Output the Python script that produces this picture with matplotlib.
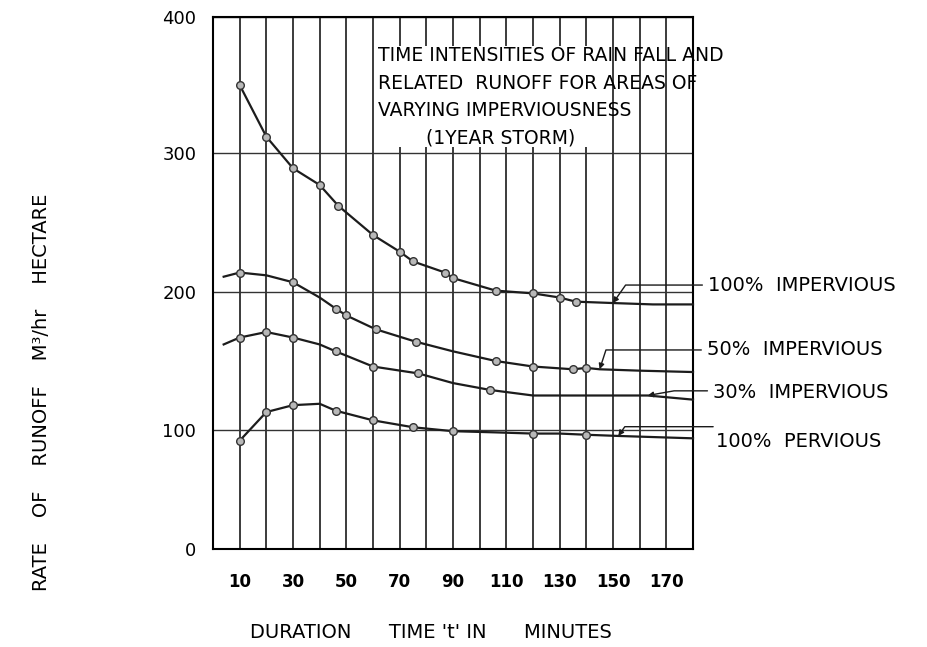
import numpy as np
import matplotlib
matplotlib.use("Agg")
import matplotlib.pyplot as plt
from matplotlib.patches import Rectangle

# (duration in minutes, runoff in m3/hr/hectare)
t_imp100 = [10, 20, 30, 40, 47, 60, 70, 75, 87, 90, 106, 120, 130, 136, 150, 165, 180]
q_imp100 = [350, 312, 289, 277, 262, 241, 229, 222, 214, 210, 201, 199, 196, 193, 192, 191, 191]
mk_imp100 = list(range(14))

t_imp50 = [4, 10, 20, 30, 40, 46, 50, 61, 76, 90, 106, 120, 135, 140, 145, 160, 180]
q_imp50 = [211, 214, 212, 207, 196, 188, 183, 173, 164, 157, 150, 146, 144, 145, 144, 143, 142]
mk_imp50 = [1, 3, 5, 6, 7, 8, 10, 11, 12, 13]

t_imp30 = [4, 10, 20, 30, 40, 46, 60, 77, 90, 104, 120, 140, 163, 180]
q_imp30 = [162, 167, 171, 167, 162, 157, 146, 141, 134, 129, 125, 125, 125, 122]
mk_imp30 = [1, 2, 3, 5, 6, 7, 9]

t_perv = [10, 20, 30, 40, 46, 60, 75, 90, 106, 120, 130, 140, 152, 180]
q_perv = [91, 113, 118, 119, 114, 107, 102, 99, 98, 97, 97, 96, 95, 93]
mk_perv = [0, 1, 2, 4, 5, 6, 7, 9, 11]

x_labels = [10, 30, 50, 70, 90, 110, 130, 150, 170]
y_labels = [0, 100, 200, 300, 400]
# the hand-ruled y grid is not evenly spaced
y_grid_px = [0, 119, 257, 396, 532]


def fwd(v):
    return np.interp(v, y_labels, y_grid_px)


def inv(p):
    return np.interp(p, y_grid_px, y_labels)


fig = plt.figure(figsize=(9.28, 6.47), dpi=100)
ax = fig.add_axes([213 / 928, 98 / 647, 480 / 928, 532 / 647])
ax.set_yscale("function", functions=(fwd, inv))
ax.set_xlim(0, 180)
ax.set_ylim(0, 400)

ax.set_xticks(x_labels)
ax.set_xticks(range(0, 181, 10), minor=True)
ax.set_yticks(y_labels)
ax.set_yticklabels([str(v) for v in y_labels])
ax.set_yticks([], minor=True)
ax.tick_params(which="both", length=0)
ax.tick_params(axis="x", pad=17, labelsize=12)
ax.tick_params(axis="y", pad=12, labelsize=13)
for lab in ax.get_xticklabels():
    lab.set_fontfamily("Liberation Sans Narrow")
    lab.set_fontweight("bold")

ax.set_axisbelow(True)
ax.grid(which="both", axis="x", color="#1a1a1a", lw=1.2)
ax.grid(axis="y", color="#333333", lw=1.0)
for sp in ax.spines.values():
    sp.set_linewidth(1.5)

# white patch behind the title where the ruling is broken
ax.add_patch(Rectangle((0.34, 0.756), 0.466, 0.19, transform=ax.transAxes,
                       facecolor="white", edgecolor="none", zorder=1))
ax.text(0.343, 0.945,
        "TIME INTENSITIES OF RAIN FALL AND\nRELATED  RUNOFF FOR AREAS OF\n"
        "VARYING IMPERVIOUSNESS\n        (1YEAR STORM)",
        transform=ax.transAxes, ha="left", va="top", fontsize=13.5,
        linespacing=1.55, zorder=3, clip_on=False)

curves = [(t_imp100, q_imp100, mk_imp100), (t_imp50, q_imp50, mk_imp50),
          (t_imp30, q_imp30, mk_imp30), (t_perv, q_perv, mk_perv)]
for t, q, mk in curves:
    ax.plot(t, q, color="#1c1c1c", lw=1.6, marker="o", markevery=mk, ms=5.5,
            mfc="#b8b8b8", mec="#333333", mew=1.0, zorder=4, clip_on=False)

# leader lines and curve names
labels = [("100%  IMPERVIOUS", t_imp100, q_imp100, 14, (185.6, 205), 55, (0, 0.5)),
          ("50%  IMPERVIOUS", t_imp50, q_imp50, 14, (185.2, 158), 72, (0, 0.5)),
          ("30%  IMPERVIOUS", t_imp30, q_imp30, 12, (187.5, 127), 10, (0, 0.6)),
          ("100%  PERVIOUS", t_perv, q_perv, 12, (188.6, 90), 55, (0, 1.3))]
for txt, t, q, i, pos, ang, rel in labels:
    ax.annotate(txt, xy=(t[i], q[i]), xytext=pos, textcoords="data",
                fontsize=14, ha="left", va="center", annotation_clip=False,
                arrowprops=dict(arrowstyle="-|>", color="#1a1a1a", lw=1.0,
                                mutation_scale=8, shrinkA=2, shrinkB=0,
                                relpos=rel,
                                connectionstyle=f"angle,angleA=0,angleB={ang},rad=0"))

fig.text(42 / 928, 1 - 392 / 647, "RATE    OF    RUNOFF    M³/hr    HECTARE",
         rotation=90, ha="center", va="center", fontsize=14)
fig.text(431 / 928, 1 - 633 / 647, "DURATION      TIME 't' IN      MINUTES",
         ha="center", va="center", fontsize=14)

fig.savefig("out.png", dpi=100)
